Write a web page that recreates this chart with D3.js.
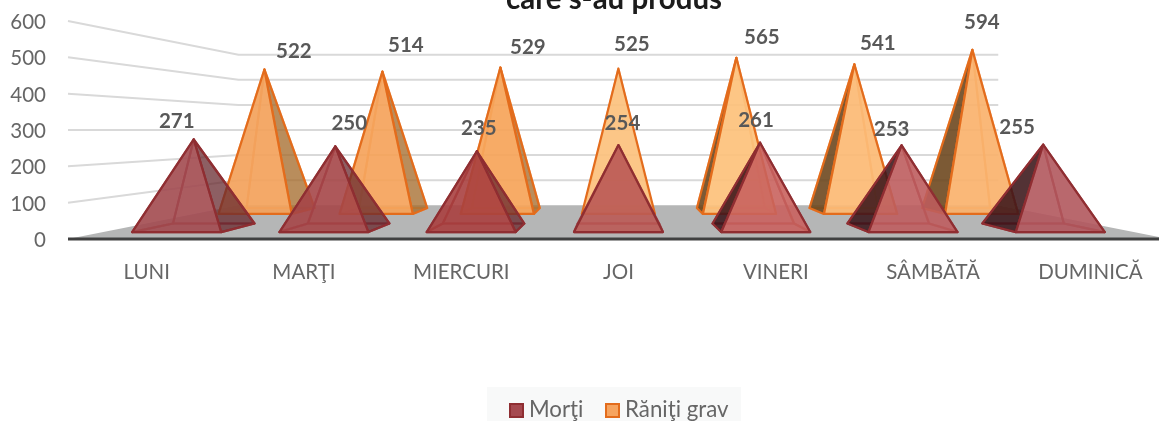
<!DOCTYPE html>
<html><head><meta charset="utf-8">
<script src="https://cdn.jsdelivr.net/npm/d3@7"></script>
<style>html,body{margin:0;padding:0;background:#fff;overflow:hidden}svg{display:block}text{font-family:Lato,sans-serif}</style>
</head><body><svg id="c" width="1159" height="421"></svg>
<script>
const categories = ["LUNI","MARŢI","MIERCURI","JOI","VINERI","SÂMBĂTĂ","DUMINICĂ"];
const morti = [271,250,235,254,261,253,255];
const raniti = [522,514,529,525,565,541,594];
const yTicks = [0,100,200,300,400,500,600];
const titleText = "care s-au produs";

// layout: perspective camera and per-label nudges
const W = 1159, H = 421;
const vp = {x:618, y:130};
const depthBack = 1.449;
const redNudge = [[-17,-18.5],[14,-24],[2,-24],[4,-22],[-4,-23],[-10,-17],[-26,-18]];
const orangeNudge = [[29.5,-18.5],[23.5,-26.7],[27.5,-20.6],[13.5,-24.7],[25.5,-20.8],[23.5,-21.4],[9.5,-27.9]];

const svg = d3.select("#c");
const defs = svg.append("defs");
defs.append("filter").attr("id","soft").attr("x",0).attr("y",0).attr("width","100%").attr("height","100%")
  .append("feGaussianBlur").attr("stdDeviation",0.45);
const root = svg.append("g").attr("filter","url(#soft)");
root.append("rect").attr("width",W).attr("height",H).attr("fill","#fff");

const x = d3.scaleBand().domain(categories).range([68,1169]).paddingInner(0.396).paddingOuter(0.198);
const y = d3.scaleLinear().domain([0,600]).range([239,21]);
const proj = (X,Y,d) => [vp.x+(X-vp.x)/d, vp.y+(Y-vp.y)/d];
const line = pts => "M"+pts.map(p=>p.join(",")).join("L")+"Z";

// floor
const y0 = y(0);
root.append("path").attr("d", line([proj(68,y0,1),proj(68,y0,depthBack),proj(1169,y0,depthBack),proj(1169,y0,1)])).attr("fill","#b5b6b6");

// gridlines on side and back wall
root.append("g").selectAll("path").data(yTicks.filter(v=>v>0)).join("path")
  .attr("d", v=>{const a=proj(68,y(v),1),b=proj(68,y(v),depthBack),c=proj(1169,y(v),depthBack);return "M"+[a,b,c].map(p=>p.join(",")).join("L");})
  .attr("fill","none").attr("stroke","#d9d9d9").attr("stroke-width",2);

// colours vary with the viewing angle
const idx = d3.scaleLinear().domain([0,2,3,4,6]);
const redFront = idx.copy().range(["#a24a50","#a8403f","#bb5a55","#c9635f","#b2575d"]);
const orangeFront = idx.copy().range(["#f3a25c","#f6a45a","#fcc27e","#fdc27c","#fab26e"]);

function pyramid(g, i, v, s) {
  const X0 = x(categories[i]), X1 = X0 + x.bandwidth(), Xc = (X0+X1)/2;
  const FL=proj(X0,y0,s.d0), FR=proj(X1,y0,s.d0), BR=proj(X1,y0,s.d1), BL=proj(X0,y0,s.d1);
  const A=proj(Xc,y(v),s.dA);
  const left = i<3, right = i>3;
  const faces = [
    {p:[BL,BR,FR,FL], f:s.back, st:s.inner},
    {p:[BL,BR,A], f:s.back, st:s.inner},
    ...(left ? [{p:[BL,FL,A], f:s.back, st:s.inner}] : []),
    ...(right ? [{p:[BR,FR,A], f:s.back, st:s.inner}] : []),
    ...(left ? [{p:[FR,BR,A], f:s.sideL, st:s.stroke}] : []),
    ...(right ? [{p:[FL,BL,A], f:s.sideR, st:s.stroke}] : []),
    {p:[FL,FR,A], f:s.front(i), st:s.stroke, o:s.op}
  ];
  g.selectAll(null).data(faces).join("path")
    .attr("d",d=>line(d.p)).attr("fill",d=>d.f).attr("fill-opacity",d=>d.o||1)
    .attr("stroke",d=>d.st).attr("stroke-width",2.2).attr("stroke-linejoin","round");
}
const orangeStyle = {d0:1.299,d1:1.397,dA:1.333,back:"rgba(240,150,70,.22)",inner:"rgba(240,140,60,.65)",
  sideL:"rgba(160,105,45,.72)",sideR:"rgba(105,70,30,.88)",stroke:"#e36c1e",front:i=>orangeFront(i),op:.9};
const redStyle = {d0:1.068,d1:1.166,dA:1.111,back:"rgba(150,50,55,.16)",inner:"rgba(150,45,50,.8)",
  sideL:"rgba(100,40,45,.7)",sideR:"rgba(55,20,25,.85)",stroke:"#8f2d30",front:i=>redFront(i),op:.88};

const gO = root.append("g"), gR = root.append("g");
raniti.forEach((v,i)=>pyramid(gO,i,v,orangeStyle));
morti.forEach((v,i)=>pyramid(gR,i,v,redStyle));

// axis baseline
root.append("line").attr("x1",68).attr("x2",W).attr("y1",y0).attr("y2",y0).attr("stroke","#404040").attr("stroke-width",3);

// axes
const ya = root.append("g").attr("transform","translate(51,1)")
  .call(d3.axisLeft(y).tickValues(yTicks).tickSize(0).tickPadding(5));
ya.select(".domain").remove();
ya.selectAll("text").attr("font-family","Lato").attr("font-size",20.5).attr("fill","#666");
const xa = root.append("g").attr("transform","translate(0,258)")
  .call(d3.axisBottom(x).tickSize(0).tickPadding(6));
xa.select(".domain").remove();
xa.selectAll("text").attr("font-family","Lato").attr("font-size",20.5).attr("fill","#666");

// data labels
function labels(vals, nudge, dA){
  root.append("g").selectAll("text").data(vals).join("text")
    .attr("x",(v,i)=>proj(x(categories[i])+x.bandwidth()/2,y(v),dA)[0]+nudge[i][0])
    .attr("y",(v,i)=>proj(x(categories[i])+x.bandwidth()/2,y(v),dA)[1]+nudge[i][1])
    .attr("dy",".36em").attr("text-anchor","middle")
    .attr("font-size",20.5).attr("font-weight",700).attr("fill","#595959")
    .text(v=>v);
}
labels(raniti, orangeNudge, orangeStyle.dA);
labels(morti, redNudge, redStyle.dA);

// title
root.append("text").attr("x",614).attr("y",8.5).attr("text-anchor","middle")
  .attr("font-size",29.5).attr("font-weight",700).attr("fill","#1a1a1a").text(titleText);

// legend
const lg = root.append("g");
lg.append("rect").attr("x",487).attr("y",387).attr("width",254).attr("height",34).attr("fill","#f8f9f9");
[{n:"Morţi",x:509,f:"#a5484f",s:"#8f2d30"},{n:"Răniţi grav",x:605,f:"#f6a45f",s:"#e36c1e"}].forEach(d=>{
  lg.append("rect").attr("x",d.x+1).attr("y",404).attr("width",13).attr("height",13).attr("fill",d.f).attr("stroke",d.s).attr("stroke-width",2);
  lg.append("text").attr("x",d.x+20).attr("y",417).attr("font-size",22.3).attr("fill","#666").text(d.n);
});
</script></body></html>
